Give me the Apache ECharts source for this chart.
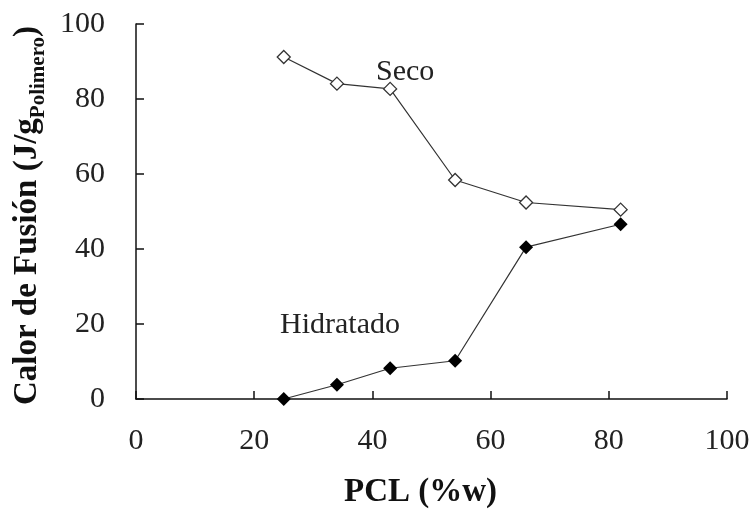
<!DOCTYPE html>
<html>
<head>
<meta charset="utf-8">
<script src="https://cdn.jsdelivr.net/npm/echarts@6/dist/echarts.min.js"></script>
<style>
  html, body { margin: 0; padding: 0; background: #fff; }
  #chart { width: 753px; height: 514px; }
</style>
</head>
<body>
<div id="chart"></div>
<script>
// PCL content (% by weight)
const pclContent = [25, 34, 43, 54, 66, 82];
// Heat of fusion, dry samples (J/g polymer)
const secoValues = [91.2, 84.1, 82.7, 58.4, 52.4, 50.5];
// Heat of fusion, hydrated samples (J/g polymer)
const hidratadoValues = [0, 3.8, 8.2, 10.2, 40.5, 46.6];
// Axis ticks
const xTicks = [0, 20, 40, 60, 80, 100];
const yTicks = [0, 20, 40, 60, 80, 100];

const serif = '"Liberation Serif", "Times New Roman", serif';
const pair = (xs, ys) => xs.map((x, i) => [x, ys[i]]);

const chart = echarts.init(document.getElementById('chart'));

const axisCommon = {
  axisLine: { show: true, lineStyle: { color: '#111', width: 1.5 } },
  axisTick: { show: true, inside: true, length: 8, lineStyle: { color: '#111', width: 1.5 } },
  splitLine: { show: false },
  axisLabel: { color: '#222', fontFamily: serif, fontSize: 30 }
};

chart.setOption({
  animation: false,
  backgroundColor: '#fff',
  grid: { left: 136, right: 26, top: 24, bottom: 112, containLabel: false },
  xAxis: Object.assign({}, axisCommon, {
    type: 'value',
    min: xTicks[0], max: xTicks[xTicks.length - 1], interval: 20,
    name: 'PCL (%w)',
    nameLocation: 'middle',
    nameGap: 77,
    nameTextStyle: { color: '#111', fontFamily: serif, fontSize: 33, fontWeight: 'bold', padding: [0, 22, 0, 0] },
    axisLabel: Object.assign({}, axisCommon.axisLabel, { margin: 27 })
  }),
  yAxis: Object.assign({}, axisCommon, {
    type: 'value',
    min: yTicks[0], max: yTicks[yTicks.length - 1], interval: 20,
    name: '{m|Calor de Fusión (J/g}{s|Polimero}{m|)}',
    nameLocation: 'middle',
    nameGap: 78,
    nameTextStyle: {
      color: '#111', fontFamily: serif, fontSize: 33, fontWeight: 'bold',
      padding: [0, 8, 0, 0],
      rich: {
        m: { fontFamily: serif, fontSize: 33, fontWeight: 'bold', color: '#111', lineHeight: 44, verticalAlign: 'middle' },
        s: { fontFamily: serif, fontSize: 21, fontWeight: 'bold', color: '#111', lineHeight: 44, verticalAlign: 'bottom' }
      }
    },
    axisLabel: Object.assign({}, axisCommon.axisLabel, { margin: 31 })
  }),
  series: [
    {
      name: 'Seco',
      type: 'line',
      data: pair(pclContent, secoValues),
      symbol: 'diamond',
      symbolSize: 13,
      lineStyle: { color: '#333', width: 1.2 },
      itemStyle: { color: '#fff', borderColor: '#333', borderWidth: 1.3 },
      z: 3
    },
    {
      name: 'Hidratado',
      type: 'line',
      data: pair(pclContent, hidratadoValues),
      symbol: 'diamond',
      symbolSize: 14,
      lineStyle: { color: '#333', width: 1.2 },
      itemStyle: { color: '#000', borderColor: '#000', borderWidth: 0 },
      z: 4
    }
  ],
  graphic: [
    {
      type: 'text', left: 376, top: 57,
      style: { text: 'Seco', font: '30px ' + serif, fill: '#222' }
    },
    {
      type: 'text', left: 280, top: 310,
      style: { text: 'Hidratado', font: '30px ' + serif, fill: '#222' }
    }
  ]
});
</script>
</body>
</html>
